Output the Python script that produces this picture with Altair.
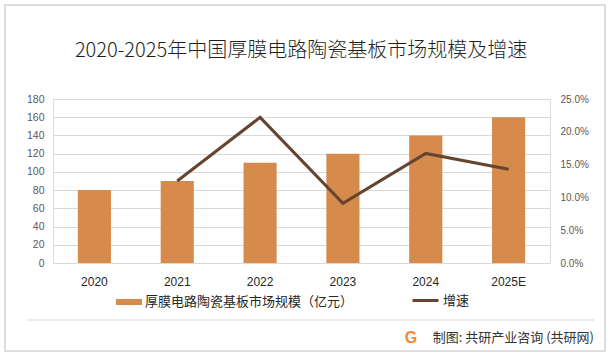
import altair as alt
import pandas as pd

years = ["2020", "2021", "2022", "2023", "2024", "2025E"]
market = [80, 90, 110, 120, 140, 160]
growth = [None, 0.125, 0.222, 0.091, 0.167, 0.143]

bar_name = "厚膜电路陶瓷基板市场规模（亿元）"
line_name = "增速"
title_text = "2020-2025年中国厚膜电路陶瓷基板市场规模及增速"
footer_text = "制图: 共研产业咨询 (共研网)"

BAR_COLOR = "#D68B4C"
LINE_COLOR = "#654530"
CJK = "Noto Sans CJK SC"
NUM = "Liberation Sans"

df = pd.DataFrame({"year": years, "market": market, "growth": growth})
df["s_bar"] = bar_name
df["s_line"] = line_name

x_enc = alt.X(
    "year:N",
    sort=years,
    scale=alt.Scale(paddingInner=0.6, paddingOuter=0.3),
    axis=alt.Axis(
        title=None, labelAngle=0, ticks=False, domain=True, domainColor="#D9D9D9",
        labelFont=NUM, labelFontSize=12, labelColor="#262626", labelPadding=13,
    ),
)

bars = alt.Chart(df).mark_bar(color=BAR_COLOR).encode(
    x=x_enc,
    y=alt.Y(
        "market:Q",
        scale=alt.Scale(domain=[0, 180], nice=False),
        axis=alt.Axis(
            title=None, orient="left", values=list(range(0, 181, 20)), ticks=False, domain=False,
            grid=True, gridColor="#D9D9D9", labelFont=NUM, labelFontSize=10.5,
            labelColor="#595959", labelPadding=9,
        ),
    ),
    color=alt.Color(
        "s_bar:N",
        scale=alt.Scale(domain=[bar_name], range=[BAR_COLOR]),
        legend=alt.Legend(
            title=None, orient="none", legendX=63, legendY=190, padding=0,
            symbolType="M-1,-0.23H1V0.23H-1Z", symbolSize=676, symbolStrokeWidth=0,
            labelFont=CJK, labelFontSize=13, labelColor="#262626", labelOffset=3,
            labelLimit=0,
        ),
    ),
)

line = alt.Chart(df).transform_filter("isValid(datum.growth)").mark_line(
    strokeWidth=3, color=LINE_COLOR
).encode(
    x=alt.X("year:N", sort=years),
    y=alt.Y(
        "growth:Q",
        scale=alt.Scale(domain=[0, 0.25], nice=False),
        axis=alt.Axis(
            title=None, orient="right", values=[0, 0.05, 0.1, 0.15, 0.2, 0.25], format=".1%",
            ticks=False, domain=False, grid=False, labelFont=NUM, labelFontSize=10,
            labelColor="#595959", labelPadding=10,
        ),
    ),
    stroke=alt.Stroke(
        "s_line:N",
        scale=alt.Scale(domain=[line_name], range=[LINE_COLOR]),
        legend=alt.Legend(
            title=None, orient="none", legendX=358, legendY=187, padding=0,
            symbolType="stroke", symbolSize=676, symbolStrokeWidth=3,
            labelFont=CJK, labelFontSize=13, labelColor="#262626", labelOffset=3,
            labelLimit=0,
        ),
    ),
)

one = pd.DataFrame({"t": [title_text]})
title = alt.Chart(one).mark_text(
    font=CJK, fontSize=20, fontWeight=300, color="#1f1f1f", align="center", baseline="middle"
).encode(text="t:N", x=alt.value(248), y=alt.value(-48))

border = alt.Chart(one).mark_rect(
    fill=None, stroke="#D4D4D4", strokeWidth=1.5
).encode(x=alt.value(-48), x2=alt.value(552), y=alt.value(-94), y2=alt.value(252))

sep = alt.Chart(one).mark_rule(color="#D9D9D9", strokeWidth=1).encode(
    x=alt.value(-26), x2=alt.value(541), y=alt.value(221)
)

foot = alt.Chart(pd.DataFrame({"t": [footer_text]})).mark_text(
    font=CJK, fontSize=13, color="#333333", align="right", baseline="middle"
).encode(text="t:N", x=alt.value(541), y=alt.value(239))

logo = alt.Chart(pd.DataFrame({"t": ["G"]})).mark_text(
    font=NUM, fontSize=16, fontWeight="bold", color="#F08A3A", align="center", baseline="middle"
).encode(text="t:N", x=alt.value(358), y=alt.value(239))

chart = alt.layer(border, sep, bars, line, title, foot, logo).resolve_scale(
    y="independent"
).properties(
    width=497, height=164,
    padding={"left": 53, "top": 99, "right": 62, "bottom": 93},
    autosize=alt.AutoSizeParams(type="none"),
).configure_view(stroke=None).configure(background="white")

chart.save("out.html", embed_options={"renderer": "svg", "actions": False})
